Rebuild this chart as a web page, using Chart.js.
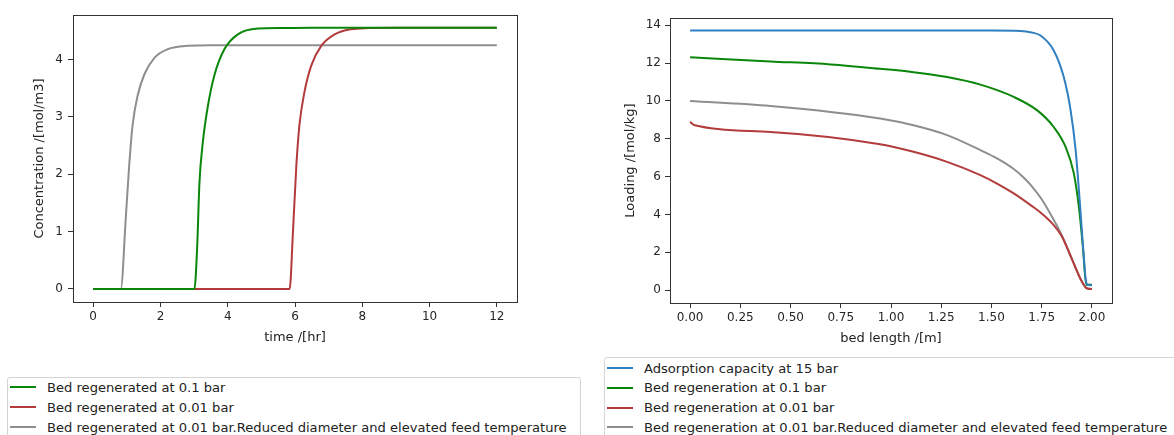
<!DOCTYPE html>
<html>
<head>
<meta charset="utf-8">
<title>Breakthrough and bed loading</title>
<script src="https://cdn.jsdelivr.net/npm/chart.js@4.4.0/dist/chart.umd.min.js"></script>
<style>
  html, body { margin: 0; padding: 0; background: #fff; }
  body { width: 1174px; height: 435px; position: relative; overflow: hidden; font-family: 'DejaVu Sans', sans-serif; }
  canvas { position: absolute; top: 0; }
  #concChart { left: 0; }
  #loadChart { left: 587px; }
  .legend { position: absolute; border: 1px solid #d4d4d4; border-radius: 3px; background: #fff; box-sizing: border-box; }
  .legend-row { position: absolute; left: 2px; height: 20px; display: flex; align-items: center; font-size: 13.1px; color: #222; white-space: nowrap; }
  .legend-line { width: 26px; height: 2px; margin-right: 11px; }
</style>
</head>
<body>
<canvas id="concChart" width="587" height="350"></canvas>
<canvas id="loadChart" width="587" height="350"></canvas>
<div class="legend" id="concLegend" style="left:7px; top:377px; width:574px; height:90px;"></div>
<div class="legend" id="loadLegend" style="left:604px; top:357px; width:600px; height:110px;"></div>

<script>
// --- outlet concentration vs time (left) ---
const concLabels = [
  'Bed regenerated at 0.1 bar',
  'Bed regenerated at 0.01 bar',
  'Bed regenerated at 0.01 bar.Reduced diameter and elevated feed temperature'
];
const timeGreen = [0, 3.01, 3.09, 3.16, 3.26, 3.41, 3.6, 3.9, 4.3, 4.9, 5.6, 6.5, 12];
const concGreen = [0, 0, 0.71, 1.86, 2.56, 3.19, 3.72, 4.18, 4.44, 4.54, 4.55, 4.555, 4.555];
const timeRed = [0, 5.84, 5.94, 6.04, 6.13, 6.28, 6.48, 6.78, 7.18, 7.67, 8.2, 9, 12];
const concRed = [0, 0, 1.0, 2.15, 2.85, 3.43, 3.89, 4.24, 4.44, 4.53, 4.55, 4.555, 4.555];
const timeGrey = [0, 0.82, 0.974, 1.07, 1.17, 1.32, 1.52, 1.82, 2.21, 2.81, 3.5, 12];
const concGrey = [0, 0, 1.28, 2.15, 2.85, 3.37, 3.74, 4.03, 4.18, 4.24, 4.25, 4.25];
const timeTicks = [0, 2, 4, 6, 8, 10, 12];
const concTicks = [0, 1, 2, 3, 4];

// --- solid loading along the bed (right) ---
const loadLabels = [
  'Adsorption capacity at 15 bar',
  'Bed regeneration at 0.1 bar',
  'Bed regeneration at 0.01 bar',
  'Bed regeneration at 0.01 bar.Reduced diameter and elevated feed temperature'
];
const posBlue = [0, 0.5, 1.0, 1.5, 1.645, 1.7, 1.744, 1.81, 1.86, 1.894, 1.919, 1.939, 1.957, 1.972, 1.985, 2.0];
const loadBlue = [13.72, 13.72, 13.72, 13.72, 13.7, 13.62, 13.46, 12.67, 11.26, 9.5, 7.4, 4.76, 2.12, 0.38, 0.26, 0.25];
const posGreen = [0, 0.4, 0.7, 0.946, 1.112, 1.279, 1.445, 1.611, 1.728, 1.81, 1.869, 1.91, 1.935, 1.955, 1.972, 2.0];
const loadGreen = [12.31, 12.09, 11.93, 11.7, 11.52, 11.26, 10.86, 10.21, 9.5, 8.62, 7.57, 6.17, 4.41, 2.3, 0.28, 0.28];
const posRed = [0, 0.023, 0.4, 0.946, 1.112, 1.279, 1.445, 1.53, 1.611, 1.7, 1.75, 1.8, 1.85, 1.9, 1.95, 1.977, 2.0];
const loadRed = [8.89, 8.71, 8.36, 7.71, 7.31, 6.78, 6.08, 5.62, 5.11, 4.45, 4.05, 3.55, 2.85, 1.65, 0.45, 0.08, 0.06];
const posGrey = [0, 0.4, 0.946, 1.112, 1.279, 1.445, 1.53, 1.611, 1.66, 1.7, 1.75, 1.8, 1.85, 1.9, 1.95, 1.977, 2.0];
const loadGrey = [9.99, 9.73, 9.07, 8.71, 8.19, 7.4, 6.95, 6.4, 5.95, 5.5, 4.8, 3.9, 2.9, 1.65, 0.45, 0.08, 0.06];
const posTicks = [0, 0.25, 0.5, 0.75, 1.0, 1.25, 1.5, 1.75, 2.0];
const loadTicks = [0, 2, 4, 6, 8, 10, 12, 14];

const BLUE = '#2f7fc1', GREEN = '#0a870a', RED = '#b33b3b', GREY = '#8e8e8e';
const AXIS = '#333';
const FONT = 'DejaVu Sans';

function pts(xs, ys) {
  return xs.map((x, i) => ({ x: x, y: ys[i] }));
}

function series(label, xs, ys, color) {
  return {
    label: label,
    data: pts(xs, ys),
    borderColor: color,
    backgroundColor: color,
    borderWidth: 2,
    pointRadius: 0,
    cubicInterpolationMode: 'monotone',
    fill: false
  };
}

// matplotlib-style box around the plot area
const frame = {
  id: 'frame',
  afterDraw(chart) {
    const a = chart.chartArea, ctx = chart.ctx;
    ctx.save();
    ctx.strokeStyle = AXIS;
    ctx.lineWidth = 1;
    ctx.strokeRect(Math.round(a.left) + 0.5, Math.round(a.top) + 0.5,
      Math.round(a.right - a.left), Math.round(a.bottom - a.top));
    ctx.restore();
  }
};

function axis(opts) {
  return {
    type: 'linear',
    min: opts.min,
    max: opts.max,
    afterBuildTicks: s => { s.ticks = opts.ticks.map(v => ({ value: v })); },
    afterFit: s => { if (opts.width) s.width = opts.width; if (opts.height) s.height = opts.height; },
    grid: { drawOnChartArea: false, drawTicks: true, tickLength: 5, color: AXIS },
    border: { display: false },
    ticks: {
      color: '#262626',
      font: { family: FONT, size: 12 },
      padding: opts.pad,
      autoSkip: false,
      maxRotation: 0,
      callback: opts.fmt
    },
    title: {
      display: true,
      text: opts.title,
      color: '#222',
      font: { family: FONT, size: 13 },
      padding: opts.titlePad
    }
  };
}

function makeChart(id, datasets, pad, xOpts, yOpts) {
  return new Chart(document.getElementById(id), {
    type: 'line',
    data: { datasets: datasets },
    options: {
      responsive: false,
      animation: false,
      events: [],
      layout: { padding: pad },
      plugins: { legend: { display: false }, tooltip: { enabled: false } },
      scales: { x: axis(xOpts), y: axis(yOpts) }
    },
    plugins: [frame]
  });
}

const concSets = [
  series(concLabels[0], timeGreen, concGreen, GREEN),
  series(concLabels[1], timeRed, concRed, RED),
  series(concLabels[2], timeGrey, concGrey, GREY)
];
makeChart('concChart', concSets,
  { left: 0, top: 15, right: 70, bottom: 0 },
  { min: -0.6, max: 12.6, ticks: timeTicks, height: 48, pad: 3, title: 'time /[hr]',
    titlePad: { top: 0, bottom: 5 }, fmt: v => String(v) },
  { min: -0.2275, max: 4.7775, ticks: concTicks, width: 73, pad: 5, title: 'Concentration /[mol/m3]',
    titlePad: { top: 32, bottom: 0 }, fmt: v => String(v) });

const loadSets = [
  series(loadLabels[0], posBlue, loadBlue, BLUE),
  series(loadLabels[1], posGreen, loadGreen, GREEN),
  series(loadLabels[2], posRed, loadRed, RED),
  series(loadLabels[3], posGrey, loadGrey, GREY)
];
makeChart('loadChart', loadSets,
  { left: 0, top: 18, right: 62, bottom: 0 },
  { min: -0.1, max: 2.1, ticks: posTicks, height: 47, pad: 3, title: 'bed length /[m]',
    titlePad: { top: 0, bottom: 4 }, fmt: v => v.toFixed(2) },
  { min: -0.685, max: 14.385, ticks: loadTicks, width: 83, pad: 4, title: 'Loading /[mol/kg]',
    titlePad: { top: 36, bottom: 0 }, fmt: v => String(v) });

// legends below each plot, built from the dataset labels and colours
function buildLegend(id, sets, firstTop, gap) {
  const box = document.getElementById(id);
  sets.forEach((d, i) => {
    const row = document.createElement('div');
    row.className = 'legend-row';
    row.style.top = (firstTop + i * gap) + 'px';
    const line = document.createElement('span');
    line.className = 'legend-line';
    line.style.background = d.borderColor;
    const txt = document.createElement('span');
    txt.textContent = d.label;
    row.appendChild(line);
    row.appendChild(txt);
    box.appendChild(row);
  });
}
buildLegend('concLegend', concSets, -1, 20);
buildLegend('loadLegend', loadSets, 0, 19.8);
</script>
</body>
</html>
